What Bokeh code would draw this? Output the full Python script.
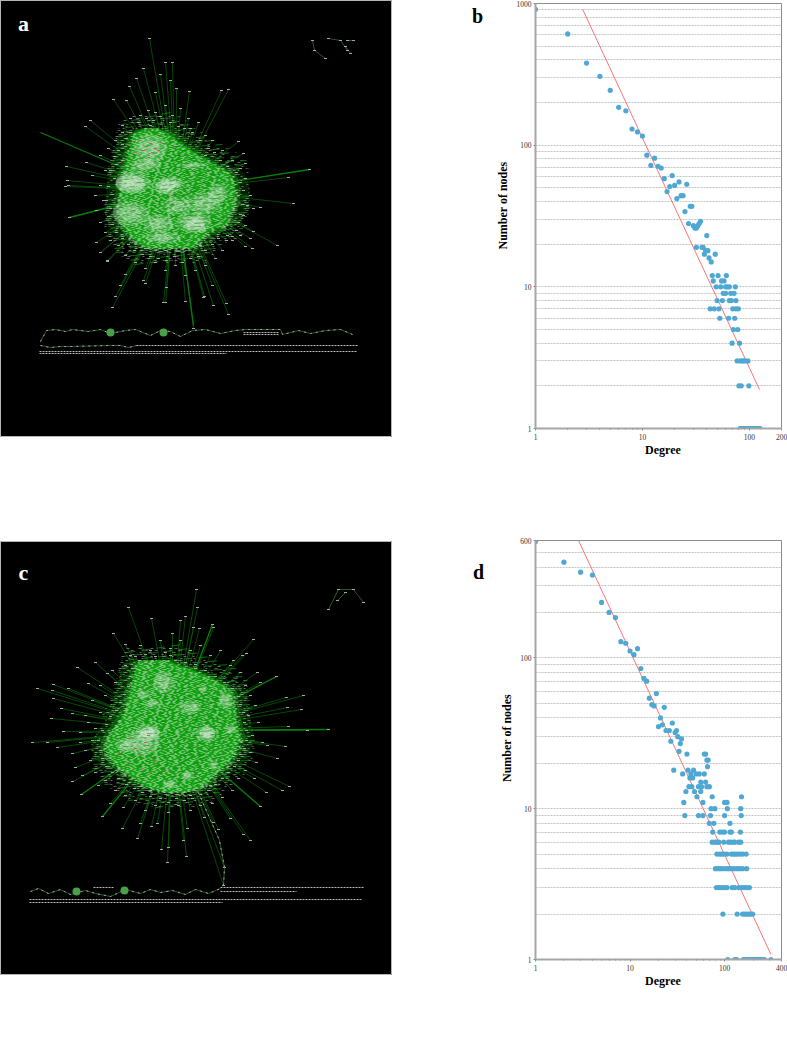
from bokeh.plotting import figure
from bokeh.layouts import row, column
from bokeh.models import Range1d, FixedTicker, Label
from bokeh.core.properties import value
from bokeh.embed import file_html
from bokeh.resources import INLINE
import numpy as np

# ---------- degree distribution, panel b ----------
b_deg = [1,2,3,4,5,6,7,8,9,10,11,12,13,14,15,16,17,18,19,20,21,22,23,24,25,26,27,28,29,30,31,32,33,34,35,
         40,32,36,37,39,41,38,48,42,44,
         45,51,61, 46,55,58, 49,54,60,62,65,74, 57,60,67,72, 50,56,65,68,75,
         43,47,52,70,75,79, 53,64,73, 71,78, 69,81, 77,83,87,91,97, 80,84,99,
         82,85,86,88,89,90,92,93,94,95,96,98,100,101,102,103,104,106,107,108,110,112,113,115,116,118,120,122,124,126]
b_cnt = [910,610,380,306,244,185,175,130,124,116,85,72,81,71,69,58,47,51,61,52,42,55,44,44,34,53,28,37,37,27,26,26,27,28,29,
         23,19,19,19,18,18,17,17,16,15,
         12,12,12, 11,11,11, 10,10,10,10,10,10, 9,9,9,9, 8,8,8,8,8,
         7,7,7,7,7,7, 6,6,6, 5,5, 4,4, 3,3,3,3,3, 2,2,2,
         1,1,1,1,1,1,1,1,1,1,1,1,1,1,1,1,1,1,1,1,1,1,1,1,1,1,1,1,1,1]
b_fit_x = [2.76, 124.6]
b_fit_y = [910, 1.88]

# ---------- degree distribution, panel d ----------
d_deg = [1,2,3,4,5,6,7,8,9,10,11,12,13,14,15,16,17,18,19,21,20,22,23,24,26,27,28,30,31,32,34,35,33,40,61,63,65,67,66,
         29,41,47, 36,44,50,54,61, 43,46, 56,63, 42,45,53,57,65,69, 39,48,56,
         51,74,151, 37,59,100,106, 72,79,107,148, 38,53,59,71,100,150, 69,77,114,
         75,89,95,100,114,118,147,
         74,79,83,87,98,110,116,124,128,141,148,
         83,89,94,99,106,118,124,130,137,146,155,169,
         80,85,90,96,104,111,118,126,135,144,155,171,
         82,87,93,99,106,120,128,141,151,161,171,183,
         96,136,155,163,171,180,189,198,
         108,128,134,158,162,166,170,174,178,182,186,190,195,200,205,210,215,220,226,232,238,245,255,263,309]
d_cnt = [590,431,370,354,233,200,185,128,125,111,105,115,85,73,70,54,49,48,58,40,35,36,47,33,33,28,37,32,33,30,27,29,24,23,23,23,21,21,19,
         18,18,18, 17,17,17,17,17, 16,16, 15,15, 14,14,14,14,14,14, 13,13,13,
         12,12,12, 11,11,11,11, 10,10,10,10, 9,9,9,9,9,9, 8,8,8,
         7,7,7,7,7,7,7,
         6,6,6,6,6,6,6,6,6,6,6,
         5,5,5,5,5,5,5,5,5,5,5,5,
         4,4,4,4,4,4,4,4,4,4,4,4,
         3,3,3,3,3,3,3,3,3,3,3,3,
         2,2,2,2,2,2,2,2,
         1,1,1,1,1,1,1,1,1,1,1,1,1,1,1,1,1,1,1,1,1,1,1,1,1]
d_fit_x = [2.85, 309]
d_fit_y = [601, 1.08]

# ---------- network a: layout positions ----------
a_hub = (175, 190)
a_blob_y = [128,132,136,140,144,148,152,156,160,164,168,172,176,180,184,188,192,196,200,204,208,212,216,220,224,228,232,236,240,244,248]
a_blob_l = [146,135,132,131,130,129,128,127,126,125,124,123,122,121,120,120,120,119,119,118,118,118,119,120,122,124,127,130,135,140,148]
a_blob_r = [156,166,172,176,181,188,194,200,208,214,222,228,232,233,234,235,235,235,234,234,232,230,228,228,226,212,207,204,200,196,192]
a_tip_x = [149,165,172,143,129,113,126,90,85,66,67,86,65,68,69,189,221,228,238,243,245,309,288,293,253,250,112,115,100,107,120,143,165,166,185,193,204,228,226,213,212,245,277,252,
           96,100,107,125,145,163,203,253,260,227,170,176,155,160,136,
           140,148,155,165,172,180,130,122,188,198,205,212,222,232,240,245,243,250,247,243,245,240,232,222,215,205,195,185,175,165,155,145,135,125,118,110,105,100,96,103,95,100,92,105,100,108,115,122]
a_tip_y = [38,62,62,68,86,99,100,120,126,166,180,162,186,185,217,91,90,89,141,153,163,169,177,203,208,238,307,296,252,260,285,280,302,287,301,328,296,314,303,305,285,246,245,248,
           242,252,261,274,283,302,297,231,207,235,80,88,92,74,78,
           115,110,112,105,115,108,118,125,118,122,135,140,150,160,168,178,190,195,205,215,225,235,240,250,258,265,270,275,265,270,262,268,262,255,245,240,232,222,210,200,195,185,175,170,155,148,140,132]
a_near_x = [138,146,153,160,170,178,184,192,200,208,214,220,227,236,240,238,242,240,238,236,232,226,218,212,205,198,190,182,174,166,158,150,142,134,128,122,116,112,108,110,106,112,108,114,110,116,114,118,122,126,130,
            150,133,175,190,205,218,122,160,200,145]
a_near_y = [122,118,120,116,122,126,128,132,140,148,152,160,166,172,182,195,204,214,222,230,236,240,238,244,250,256,258,262,256,260,258,256,254,250,244,238,232,224,216,208,200,194,186,178,170,164,156,150,144,138,132,
            125,140,145,128,155,168,160,240,245,248]
a_thick_x = [40,309,69,193]
a_thick_y = [132,169,217,325]
a_white_x = [150,133,193,170,203,130,158,193,217,197,162,167,130,146,175]
a_white_y = [148,182,165,185,203,213,223,222,193,224,237,186,183,165,205]
a_white_w = [34,36,24,30,34,36,30,34,20,24,34,26,30,30,30]
a_white_h = [28,22,7,18,22,24,18,20,20,16,12,16,18,14,18]
a_hole_x = [153,183,215,165,205,140]
a_hole_y = [173,192,225,204,170,200]
a_hole_w = [22,28,22,18,20,14]
a_hole_h = [14,14,16,10,10,10]
a_red_x = [140,146,150,152,155,158,148,143,160,135,172,150]
a_red_y = [140,146,143,152,148,150,155,150,142,152,195,128]
a_chain_x = [40,46,55,65,72,88,100,110,125,135,150,160,170,180,192,205,220,235,245,280,282,298,310,325,340,352,None,40,50,60,70,110,120,128,136]
a_chain_y = [341,330,329,331,329,331,329,333,330,329,335,330,331,336,330,329,333,330,329,329,334,330,333,330,329,334,None,345,347,346,346,345,345,347,345]
a_rows_x0 = [136,39,39,243,243]
a_rows_x1 = [358,357,226,278,278]
a_rows_y = [345,351,353,332,334]
a_blobs_x = [110,163]
a_blobs_y = [332,332]
a_comp_x = [312,314,325,None,328,340,347,None,347,353,None,350,345]
a_comp_y = [40,50,58,None,38,40,50,None,40,40,None,53,46]

# ---------- network c ----------
c_hub = (172, 730)
c_blob_y = [660,664,668,672,676,680,684,688,692,696,700,704,708,712,716,720,724,728,732,736,740,744,748,752,756,760,764,768,772,776,780,784,788,792]
c_blob_l = [140,136,135,134,133,132,131,130,129,128,127,126,125,124,122,119,116,113,110,108,106,105,105,106,108,111,114,118,124,130,136,142,150,165]
c_blob_r = [168,176,188,198,208,215,222,228,232,233,233,233,234,234,235,236,237,238,239,240,240,238,236,235,232,230,226,222,218,213,209,205,198,185]
c_tip_x = [196,197,128,151,113,125,172,185,180,193,199,212,213,253,242,257,276,260,303,286,301,287,288,328,307,285,267,277,246,233,
           37,53,52,77,95,107,68,88,53,61,51,72,32,47,63,57,72,88,80,
           75,72,81,102,122,137,161,167,186,183,168,224,223,250,243,218,260,289,282,266,254,230,213,204,187,157,140,151,123,110,98,82,
           140,150,160,170,180,190,200,210,220,230,240,245,250,255,248,258,252,262,250,256,245,238,232,222,212,200,190,178,168,155,145,135,125,115,105,95,90,85,92,80,95,85,100,92,105,100,115,112,125,130]
c_tip_y = [589,607,607,618,633,644,633,616,620,627,628,624,627,639,655,672,676,682,695,697,709,707,726,729,730,746,745,758,653,660,
           688,684,690,667,662,673,688,683,698,708,718,713,742,742,731,747,753,722,732,
           767,781,794,816,828,838,849,862,856,840,847,867,885,840,834,829,806,786,790,792,778,818,822,817,828,823,823,826,807,803,785,775,
           645,650,640,648,640,650,645,655,650,665,672,685,695,705,715,722,735,742,752,762,770,778,790,797,803,805,810,805,812,805,810,800,795,790,780,772,760,750,740,742,728,715,712,700,695,685,682,670,665,655]
c_near_x = [135,145,155,165,175,185,195,205,215,224,232,238,240,243,244,246,246,244,240,238,234,228,222,215,208,200,192,184,176,168,160,150,142,134,126,118,112,106,102,100,98,102,106,110,116,120,124,128,130,132,
            145,170,195,220,230,110,122,150,190,210]
c_near_y = [656,654,656,652,660,662,664,670,676,682,688,696,704,712,722,730,740,748,754,760,766,772,778,784,790,794,798,800,798,802,798,796,792,788,784,778,772,766,758,750,740,730,724,716,710,702,694,686,676,668,
            662,655,668,690,705,745,770,790,795,785]
c_thick_x = [276,260,102,81,212,328]
c_thick_y = [676,806,816,794,624,729]
c_white_x = [163,143,152,190,203,207,230,213,142,150,170,187,147,205,125,225]
c_white_y = [682,694,703,707,688,733,729,765,742,732,784,775,732,733,745,700]
c_white_w = [20,12,14,22,8,16,10,10,34,20,14,14,24,20,18,14]
c_white_h = [22,9,8,13,7,16,9,10,26,12,8,8,16,14,14,16]
c_hole_x = [160,175,210,195,135,120]
c_hole_y = [715,695,700,755,712,760]
c_hole_w = [18,24,18,22,14,12]
c_hole_h = [8,8,8,8,7,7]
c_red_x = [135,140,145,150,155,130,142,148,118,165,128,150]
c_red_y = [748,755,742,750,760,738,768,735,752,770,762,772]
c_chain_x = [30,38,48,60,70,85,95,110,125,140,150,160,172,185,195,208,220,None,223,224,219,197]
c_chain_y = [891,888,893,889,894,890,893,896,889,893,889,892,890,894,889,893,888,None,885,867,840,790]
c_rows_x0 = [220,220,93,29,29]
c_rows_x1 = [363,296,114,361,222]
c_rows_y = [887,891,887,899,902]
c_blobs_x = [76,124]
c_blobs_y = [891,890]
c_comp_x = [328,338,353,363,None,337,345]
c_comp_y = [609,589,589,602,None,600,592]

GRID = "#c2c2c2"
AXIS = "#a6a6a6"
SERIF = "Liberation Serif"
DOT = "#4fa8d3"
FIT = "#ff7373"
DASHES = ["3 2 2 5", "2 3 4 4", "4 6 2 3", "3 7", "2 2 3 6", "5 3 2 7", "2 5 3 2"]
HALO = ["3 9", "2 7 3 12", "3 6 2 10", "2 11"]


def network(w, h, y0, hub, by, bl, br, tx, ty, nx, ny, thx, thy, wx, wy, ww, wh, ox, oy, ow, oh, redx, redy,
            chx, chy, rx0, rx1, ry, gx, gy, compx, compy, letter, ly):
    p = figure(width=w, height=h, x_range=Range1d(0, w), y_range=Range1d(y0 + h, y0),
               output_backend="svg", toolbar_location=None, min_border=0,
               background_fill_color="black", border_fill_color="black",
               outline_line_color="#b5b5b5", outline_line_width=1)
    p.axis.visible = False
    p.grid.visible = False
    allx = tx + nx
    ally = ty + ny
    # spokes run to the hub beneath the dense body
    p.segment([hub[0]] * len(allx), [hub[1]] * len(allx), allx, ally, line_color="#085a08", line_width=0.8)
    p.segment([hub[0]] * len(thx), [hub[1]] * len(thx), thx, thy, line_color="#0a7a0a", line_width=1.3)
    # fringe of labels and short edges round the body
    ya = list(by)
    la = list(np.array(bl) - 14)
    ra = list(np.array(br) + 14)
    p.patch(la + ra[::-1], ya + ya[::-1], fill_color="#0a6a0a", fill_alpha=0.3, line_color=None)
    lb = list(np.array(bl) - 5)
    rb = list(np.array(br) + 5)
    p.patch(lb + rb[::-1], ya + ya[::-1], fill_color="#0c8a0c", fill_alpha=0.5, line_color=None)
    mid = len(by) // 2
    for i, (y, a, b) in enumerate(zip(by, la, ra)):
        shift = -12 if i < mid else 12
        p.line([a, b], [y + shift + 4, y + shift - 4], line_color="#0c8a0c", line_alpha=0.8, line_width=1,
               line_dash="9 6", line_dash_offset=(i * 4) % 15)
        for k, dy in enumerate([shift, shift + 2, 0, 2]):
            p.line([a, b], [y + dy, y + dy], line_color="#c0c0c0", line_alpha=0.5, line_width=1,
                   line_dash=HALO[(i + k) % len(HALO)], line_dash_offset=(i * 7 + k * 5) % 13)
    # dense body
    p.patch(list(bl) + list(br)[::-1], list(by) + list(by)[::-1], fill_color="#0fa50f", line_color=None)
    p.ellipse(wx, wy, width=ww, height=wh, fill_color="#eef2ee", fill_alpha=0.25, line_color=None)
    p.ellipse(wx, wy, width=list(0.6 * np.array(ww)), height=list(0.6 * np.array(wh)),
              fill_color="#eef2ee", fill_alpha=0.25, line_color=None)
    p.ellipse(ox, oy, width=ow, height=oh, fill_color="#0aa00a", fill_alpha=0.5, line_color=None)
    for i, (y, a, b) in enumerate(zip(by, bl, br)):
        p.line([a, b], [y + 3, y - 3], line_color="#078007", line_alpha=0.55, line_width=1,
               line_dash="11 7", line_dash_offset=(i * 6) % 18)
        for k, dy in enumerate([0, 1, 2, 3]):
            p.line([a - 2, b + 2], [y + dy, y + dy], line_color="#e4e4e4", line_alpha=0.5, line_width=1,
                   line_dash=DASHES[(i * 3 + k * 2) % len(DASHES)], line_dash_offset=(i * 5 + k * 3) % 11)
    p.scatter(redx, redy, marker="dash", size=3, line_color="#c85a5a", line_width=1)
    # outer nodes
    p.scatter(allx, ally, marker="dash", size=3, line_color="#a8a8a8", line_width=1)
    # detached chains
    cx = np.array(chx, dtype=float)
    cy = np.array(chy, dtype=float)
    p.line(cx, cy, line_color="#2f6f2f", line_width=0.8)
    p.line(cx, cy, line_color="#a8a8a8", line_width=1, line_dash="2 4")
    p.multi_line([[a, b] for a, b in zip(rx0, rx1)], [[v, v] for v in ry],
                 line_color="#bcbcbc", line_width=1, line_dash="2 1")
    p.scatter(gx, gy, marker="circle", size=8, fill_color="#4a9f4a", line_color=None)
    cpx = np.array(compx, dtype=float)
    cpy = np.array(compy, dtype=float)
    p.line(cpx, cpy, line_color="#2f6f2f", line_width=0.8)
    p.scatter(cpx, cpy, marker="dash", size=3, line_color="#a8a8a8", line_width=1)
    p.add_layout(Label(x=23, y=h - ly, x_units="screen", y_units="screen", text=letter,
                       text_color="white", text_font=SERIF, text_font_style="bold",
                       text_font_size="22px", text_align="center", text_baseline="middle"))
    return p


def loglog(w, h, left, right, top, bottom, xr, yr, xmaj, xminor, ymaj, yminor, deg, cnt, fx, fy, yshift, xshift, ystand):
    p = figure(width=w, height=h, x_axis_type="log", y_axis_type="log",
               x_range=Range1d(*xr), y_range=Range1d(*yr),
               output_backend="svg", toolbar_location=None,
               min_border_left=left, min_border_right=right, min_border_top=top, min_border_bottom=bottom,
               outline_line_color="#8c8c8c", outline_line_width=1)
    p.xgrid.visible = False
    g = p.ygrid[0]
    g.ticker = FixedTicker(ticks=ymaj, minor_ticks=yminor)
    g.grid_line_color = GRID
    g.grid_line_dash = "2 1"
    g.minor_grid_line_color = GRID
    g.minor_grid_line_dash = "2 1"
    p.xaxis.ticker = FixedTicker(ticks=xmaj, minor_ticks=xminor)
    p.yaxis.ticker = FixedTicker(ticks=ymaj, minor_ticks=[])
    for ax in [p.xaxis[0], p.yaxis[0]]:
        ax.axis_line_color = AXIS
        ax.axis_line_width = 2
        ax.major_tick_line_color = "#8c8c8c"
        ax.minor_tick_line_color = "#8c8c8c"
        ax.major_tick_out = 2
        ax.major_tick_in = 0
        ax.minor_tick_out = 1
        ax.minor_tick_in = 0
        ax.major_label_text_font = SERIF
        ax.major_label_text_font_size = "7.5px"
        ax.major_label_text_color = "#333333"
        ax.major_label_standoff = 2
        ax.axis_label_text_font = SERIF
        ax.axis_label_text_font_style = "bold"
        ax.axis_label_text_font_size = "12px"
        ax.axis_label_text_color = "black"
    p.xaxis[0].major_label_overrides = {v: str(v) for v in xmaj}
    p.yaxis[0].major_label_overrides = {v: str(v) for v in ymaj}
    p.xaxis[0].major_label_standoff = 3
    # no-break spaces nudge the centred labels to where the reference has them
    p.yaxis[0].axis_label = "\u00a0" * yshift + "Number of nodes"
    p.xaxis[0].axis_label = "\u00a0" * xshift + "Degree"
    p.yaxis[0].axis_label_standoff = ystand
    p.xaxis[0].axis_label_standoff = 0
    p.line(fx, fy, line_color=FIT, line_width=1)
    p.scatter(deg, cnt, marker="circle", size=5.2, fill_color=DOT, line_color=DOT, line_width=0)
    return p


def letter_box(letter, w, h, x, y, top):
    p = figure(width=w, height=h, x_range=Range1d(0, w), y_range=Range1d(h, 0),
               output_backend="svg", toolbar_location=None, min_border=0, outline_line_color=None,
               background_fill_color=None, border_fill_color=None)
    p.axis.visible = False
    p.grid.visible = False
    p.text([x], [y], text=[letter], text_color="black", text_font=value(SERIF), text_font_style="bold",
           text_font_size="20px", text_align="center", text_baseline="middle")
    p.margin = (top, 0, 0, 0)
    return p


minors_1000 = [2,3,4,5,6,7,8,9,20,30,40,50,60,70,80,90,200,300,400,500,600,700,800,900]
pa = network(392, 437, 0, a_hub, a_blob_y, a_blob_l, a_blob_r, a_tip_x, a_tip_y, a_near_x, a_near_y, a_thick_x, a_thick_y,
             a_white_x, a_white_y, a_white_w, a_white_h, a_hole_x, a_hole_y, a_hole_w, a_hole_h, a_red_x, a_red_y,
             a_chain_x, a_chain_y,
             a_rows_x0, a_rows_x1, a_rows_y, a_blobs_x, a_blobs_y, a_comp_x, a_comp_y, "a", 23)
pc = network(392, 434, 541, c_hub, c_blob_y, c_blob_l, c_blob_r, c_tip_x, c_tip_y, c_near_x, c_near_y, c_thick_x, c_thick_y,
             c_white_x, c_white_y, c_white_w, c_white_h, c_hole_x, c_hole_y, c_hole_w, c_hole_h, c_red_x, c_red_y,
             c_chain_x, c_chain_y,
             c_rows_x0, c_rows_x1, c_rows_y, c_blobs_x, c_blobs_y, c_comp_x, c_comp_y, "c", 31)
pc.margin = (104, 0, 0, 0)

lb_b = letter_box("b", 100, 30, 85, 15, 0)
lb_d = letter_box("d", 100, 30, 86, 15, 526)

pb = loglog(295, 460, 40, 6, 3, 32, (1, 200), (1, 1000), [1, 10, 100, 200],
            [2,3,4,5,6,7,8,9,20,30,40,50,60,70,80,90], [1, 10, 100, 1000], minors_1000,
            b_deg, b_cnt, b_fit_x, b_fit_y, 7, 3, 4)
pd = loglog(295, 460, 42, 4, 10, 31, (1, 400), (1, 600), [1, 10, 100, 400],
            [2,3,4,5,6,7,8,9,20,30,40,50,60,70,80,90,200,300], [1, 10, 100, 600],
            [2,3,4,5,6,7,8,9,20,30,40,50,60,70,80,90,200,300,400,500],
            d_deg, d_cnt, d_fit_x, d_fit_y, 8, 3, 3)
pd.margin = (70, 0, 0, 0)

root = row(column(pa, pc), column(lb_b, lb_d), column(pb, pd))
open("out.html", "w").write(file_html(root, INLINE))
